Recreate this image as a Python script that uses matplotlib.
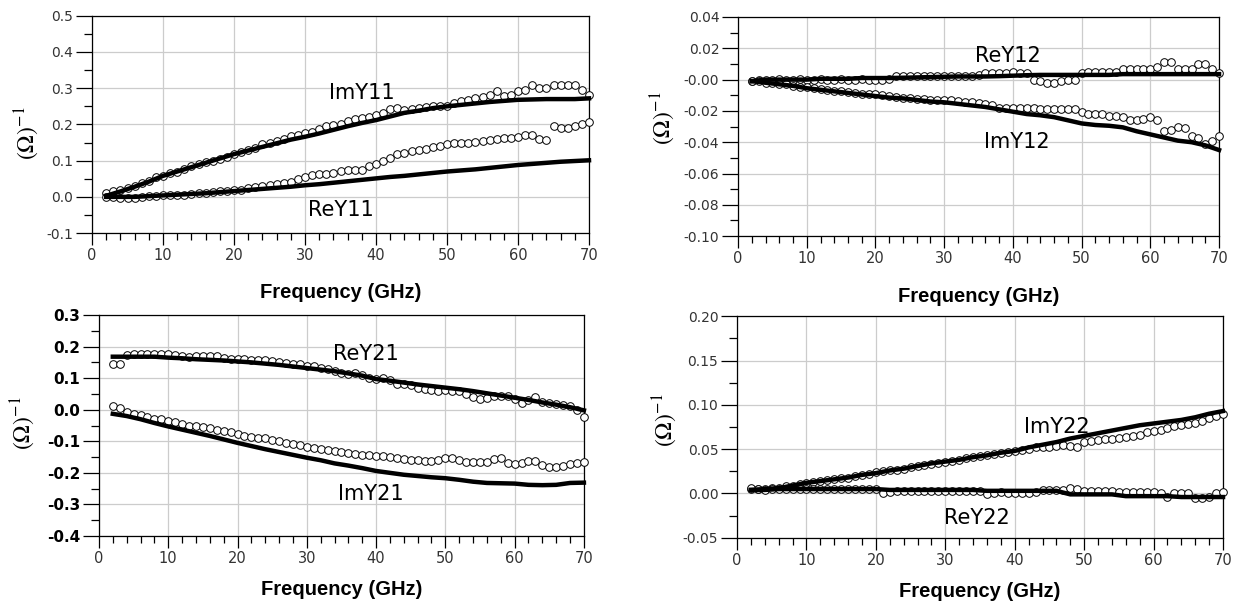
import matplotlib
matplotlib.use('Agg')
import matplotlib.pyplot as plt
from matplotlib.ticker import MultipleLocator, FormatStrFormatter

plt.rcParams['axes.unicode_minus'] = False
plt.rcParams['mathtext.fontset'] = 'stix'

# measured points (circles), every 1 GHz from 2 to 70
f_meas = list(range(2, 71))
# model curves (thick lines), every 2 GHz from 2 to 70
f_model = list(range(2, 71, 2))

im_y11_meas = [0.012, 0.015, 0.02, 0.025, 0.03, 0.038, 0.045, 0.055, 0.058, 0.065,
               0.07, 0.078, 0.085, 0.09, 0.095, 0.1, 0.105, 0.11, 0.118, 0.125,
               0.13, 0.135, 0.145, 0.148, 0.155, 0.16, 0.168, 0.172, 0.175, 0.18,
               0.188, 0.195, 0.198, 0.2, 0.21, 0.215, 0.218, 0.22, 0.225, 0.232,
               0.242, 0.245, 0.24, 0.242, 0.245, 0.248, 0.25, 0.25, 0.252, 0.258,
               0.265, 0.268, 0.272, 0.275, 0.28, 0.292, 0.278, 0.28, 0.293, 0.295,
               0.31, 0.3, 0.3, 0.308, 0.31, 0.31, 0.31, 0.294, 0.282]
re_y11_meas = [0.0, 0.0, -0.002, -0.002, -0.002, 0.0, 0.002, 0.003, 0.004, 0.004,
               0.005, 0.006, 0.008, 0.01, 0.012, 0.013, 0.016, 0.017, 0.018, 0.02,
               0.024, 0.027, 0.03, 0.033, 0.035, 0.038, 0.042, 0.048, 0.055, 0.06,
               0.062, 0.064, 0.066, 0.072, 0.075, 0.073, 0.074, 0.085, 0.09, 0.1,
               0.107, 0.118, 0.122, 0.128, 0.13, 0.133, 0.138, 0.14, 0.146, 0.148,
               0.148, 0.15, 0.152, 0.155, 0.158, 0.16, 0.163, 0.162, 0.166, 0.172,
               0.17, 0.16, 0.158, 0.196, 0.19, 0.19, 0.195, 0.2, 0.207]
im_y11_model = [0.003, 0.015, 0.028, 0.042, 0.058, 0.07, 0.082, 0.094, 0.106, 0.118,
                0.128, 0.138, 0.148, 0.158, 0.166, 0.175, 0.185, 0.195, 0.204, 0.212,
                0.222, 0.232, 0.238, 0.245, 0.25, 0.254, 0.258, 0.262, 0.265, 0.268,
                0.269, 0.27, 0.27, 0.27, 0.272]
re_y11_model = [0.0, 0.0, 0.0, 0.002, 0.004, 0.006, 0.008, 0.01, 0.013, 0.016,
                0.019, 0.022, 0.025, 0.028, 0.032, 0.035, 0.039, 0.043, 0.047, 0.051,
                0.055, 0.058, 0.062, 0.066, 0.07, 0.073, 0.076, 0.08, 0.084, 0.088,
                0.091, 0.094, 0.097, 0.099, 0.101]

re_y12_meas = [-0.001, 0.0, 0.0, 0.0, 0.0005, 0.0, 0.0, 0.0005, 0.0, 0.0,
               0.0005, 0.0, 0.0, 0.0005, 0.0, 0.0, 0.0005, 0.0, 0.0, 0.0,
               0.0005, 0.002, 0.002, 0.002, 0.002, 0.002, 0.002, 0.002, 0.002, 0.002,
               0.002, 0.002, 0.002, 0.003, 0.004, 0.004, 0.004, 0.004, 0.005, 0.004,
               0.004, 0.0, -0.001, -0.002, -0.002, -0.001, 0.0, 0.0, 0.004, 0.005,
               0.005, 0.005, 0.005, 0.005, 0.007, 0.007, 0.007, 0.007, 0.007, 0.008,
               0.011, 0.011, 0.007, 0.007, 0.007, 0.01, 0.01, 0.007, 0.004]
im_y12_meas = [-0.001, -0.001, -0.002, -0.002, -0.003, -0.003, -0.004, -0.0045, -0.005, -0.0055,
               -0.006, -0.0065, -0.007, -0.0075, -0.008, -0.0085, -0.009, -0.0092, -0.0095, -0.01,
               -0.0105, -0.011, -0.0115, -0.012, -0.0123, -0.0125, -0.013, -0.013, -0.013, -0.013,
               -0.0135, -0.014, -0.0145, -0.015, -0.0155, -0.016, -0.018, -0.018, -0.018, -0.018,
               -0.018, -0.018, -0.019, -0.019, -0.019, -0.019, -0.019, -0.0185, -0.021, -0.022,
               -0.022, -0.022, -0.023, -0.023, -0.024, -0.026, -0.026, -0.025, -0.024, -0.026,
               -0.033, -0.032, -0.03, -0.031, -0.036, -0.037, -0.041, -0.039, -0.036]
re_y12_model = [-0.001, 0.0, 0.0, 0.0, 0.0, 0.0005, 0.0005, 0.0005, 0.001, 0.001,
                0.001, 0.0012, 0.0014, 0.0016, 0.0018, 0.002, 0.002, 0.002, 0.0022, 0.0025,
                0.0028, 0.003, 0.003, 0.003, 0.003, 0.003, 0.003, 0.0035, 0.0035, 0.0035,
                0.0035, 0.0035, 0.0035, 0.0035, 0.0035]
im_y12_model = [-0.001, -0.002, -0.003, -0.004, -0.0055, -0.0065, -0.0075, -0.0085, -0.0095, -0.0105,
                -0.0115, -0.012, -0.013, -0.014, -0.0145, -0.0155, -0.0165, -0.0175, -0.019, -0.0205,
                -0.022, -0.0228, -0.024, -0.026, -0.028, -0.029, -0.0295, -0.0305, -0.033, -0.035,
                -0.037, -0.039, -0.04, -0.042, -0.045]

re_y21_meas = [0.145, 0.145, 0.172, 0.175, 0.178, 0.176, 0.175, 0.175, 0.176, 0.172,
               0.17, 0.168, 0.17, 0.17, 0.17, 0.17, 0.163, 0.162, 0.16, 0.16,
               0.158, 0.158, 0.157, 0.155, 0.15, 0.148, 0.146, 0.145, 0.14, 0.137,
               0.133, 0.13, 0.122, 0.116, 0.113, 0.115, 0.11, 0.1, 0.098, 0.1,
               0.095, 0.08, 0.08, 0.078, 0.068, 0.065, 0.062, 0.06, 0.062, 0.06,
               0.058, 0.05, 0.04, 0.035, 0.036, 0.045, 0.045, 0.042, 0.035, 0.022,
               0.03, 0.04, 0.025, 0.02, 0.018, 0.015, 0.012, -0.002, -0.022]
im_y21_meas = [0.013, 0.005, -0.008, -0.012, -0.018, -0.022, -0.028, -0.03, -0.035, -0.038,
               -0.045, -0.05, -0.052, -0.055, -0.058, -0.063, -0.068, -0.072, -0.078, -0.082,
               -0.085, -0.088, -0.09, -0.095, -0.1, -0.104, -0.108, -0.112, -0.117, -0.12,
               -0.125, -0.128, -0.132, -0.135, -0.138, -0.14, -0.142, -0.144, -0.146, -0.148,
               -0.15, -0.152, -0.156, -0.16, -0.16, -0.162, -0.162, -0.16, -0.153, -0.152,
               -0.158, -0.165, -0.167, -0.167, -0.165, -0.155, -0.152, -0.168, -0.172, -0.17,
               -0.162, -0.162, -0.175, -0.183, -0.183, -0.178, -0.172, -0.17, -0.165]
re_y21_model = [0.168, 0.168, 0.168, 0.168, 0.165, 0.163, 0.16, 0.158, 0.156, 0.153,
                0.15, 0.146, 0.142, 0.137, 0.132, 0.127, 0.122, 0.115, 0.108, 0.097,
                0.092, 0.086, 0.08, 0.075, 0.07, 0.065, 0.059, 0.052, 0.045, 0.038,
                0.031, 0.023, 0.016, 0.008, -0.002]
im_y21_model = [-0.013, -0.02, -0.03, -0.042, -0.053, -0.063, -0.073, -0.083, -0.094, -0.105,
                -0.115, -0.125, -0.134, -0.143, -0.152, -0.16, -0.17, -0.177, -0.185, -0.194,
                -0.2, -0.206, -0.21, -0.214, -0.217, -0.222, -0.228, -0.232, -0.233, -0.234,
                -0.238, -0.239, -0.238, -0.232, -0.231]

im_y22_meas = [0.005, 0.005, 0.005, 0.006, 0.006, 0.008, 0.009, 0.011, 0.012, 0.013,
               0.014, 0.015, 0.016, 0.017, 0.018, 0.02, 0.021, 0.022, 0.024, 0.025,
               0.026, 0.027, 0.028, 0.03, 0.031, 0.032, 0.033, 0.034, 0.035, 0.037,
               0.038, 0.04, 0.041, 0.042, 0.043, 0.044, 0.046, 0.047, 0.048, 0.049,
               0.05, 0.052, 0.053, 0.053, 0.054, 0.055, 0.054, 0.053, 0.058, 0.059,
               0.06, 0.061, 0.062, 0.063, 0.064, 0.065, 0.066, 0.069, 0.071, 0.072,
               0.074, 0.076, 0.077, 0.078, 0.08, 0.082, 0.085, 0.088, 0.09]
re_y22_meas = [0.006, 0.005, 0.004, 0.005, 0.005, 0.005, 0.005, 0.005, 0.005, 0.005,
               0.005, 0.005, 0.005, 0.005, 0.005, 0.005, 0.005, 0.005, 0.005, 0.0,
               0.002, 0.003, 0.003, 0.003, 0.003, 0.003, 0.003, 0.003, 0.003, 0.003,
               0.003, 0.003, 0.003, 0.003, -0.001, 0.001, 0.002, 0.001, 0.0, 0.0,
               0.0, 0.002, 0.004, 0.004, 0.004, 0.004, 0.006, 0.005, 0.003, 0.003,
               0.003, 0.003, 0.003, 0.002, 0.002, 0.002, 0.002, 0.002, 0.002, 0.001,
               -0.0045, 0.001, 0.001, 0.0, -0.005, -0.0055, -0.004, 0.0, 0.002]
im_y22_model = [0.004, 0.005, 0.006, 0.009, 0.012, 0.014, 0.016, 0.018, 0.021, 0.023,
                0.026, 0.028, 0.031, 0.034, 0.036, 0.038, 0.041, 0.043, 0.046, 0.048,
                0.052, 0.055, 0.058, 0.062, 0.065, 0.068, 0.071, 0.074, 0.077, 0.079,
                0.081, 0.083, 0.086, 0.09, 0.093]
re_y22_model = [0.004, 0.004, 0.005, 0.005, 0.005, 0.005, 0.005, 0.005, 0.005, 0.005,
                0.004, 0.004, 0.004, 0.004, 0.004, 0.004, 0.004, 0.003, 0.003, 0.003,
                0.003, 0.003, 0.003, -0.001, -0.001, -0.001, -0.001, -0.003, -0.003, -0.003,
                -0.003, -0.004, -0.004, -0.004, -0.004]

tick_color = '#333333'


def setup_axes(ax, ylim, ymajor, yminor, yfmt, bold_ticks=False):
    ax.set_xlim(0, 70)
    ax.set_ylim(*ylim)
    ax.xaxis.set_major_locator(MultipleLocator(10))
    ax.xaxis.set_minor_locator(MultipleLocator(2))
    ax.yaxis.set_major_locator(MultipleLocator(ymajor))
    ax.yaxis.set_minor_locator(MultipleLocator(yminor))
    ax.yaxis.set_major_formatter(FormatStrFormatter(yfmt))
    ax.grid(True, which='major', color='#cccccc', linewidth=0.9)
    ax.set_axisbelow(True)
    ax.tick_params(axis='x', which='major', direction='out', length=8.5, width=0.9,
                   pad=2.5, labelsize=10.5, labelcolor=tick_color)
    ax.tick_params(axis='x', which='minor', direction='out', length=5, width=0.9)
    ax.tick_params(axis='y', which='major', direction='out', length=11.5, width=0.9,
                   pad=2, labelsize=10, labelcolor=tick_color)
    ax.tick_params(axis='y', which='minor', direction='out', length=6, width=0.9)
    if bold_ticks:
        for lab in ax.get_yticklabels():
            lab.set_fontweight('bold')
            lab.set_fontsize(11)
            lab.set_color('black')
    for sp in ax.spines.values():
        sp.set_linewidth(0.9)
    # no tick marks on the top / right edges
    ax.figure.canvas.draw()
    ax.yaxis.get_major_ticks()[-1].tick1line.set_visible(False)
    ax.xaxis.get_major_ticks()[-1].tick1line.set_visible(False)


def draw_pair(ax, meas, model):
    ax.plot(f_meas, meas, 'o', markersize=5.5, markerfacecolor='white',
            markeredgecolor='black', markeredgewidth=0.7, zorder=3, clip_on=False)
    ax.plot(f_model, model, '-', color='black', linewidth=3.2, zorder=4, clip_on=False)


fig = plt.figure(figsize=(12.4, 6.07), dpi=100)
ax1 = fig.add_axes([0.0742, 0.616, 0.4008, 0.358])
ax2 = fig.add_axes([0.5952, 0.611, 0.3879, 0.361])
ax3 = fig.add_axes([0.0798, 0.117, 0.3911, 0.364])
ax4 = fig.add_axes([0.5944, 0.114, 0.3919, 0.365])

draw_pair(ax1, im_y11_meas, im_y11_model)
draw_pair(ax1, re_y11_meas, re_y11_model)
draw_pair(ax2, re_y12_meas, re_y12_model)
draw_pair(ax2, im_y12_meas, im_y12_model)
draw_pair(ax3, re_y21_meas, re_y21_model)
draw_pair(ax3, im_y21_meas, im_y21_model)
draw_pair(ax4, im_y22_meas, im_y22_model)
draw_pair(ax4, re_y22_meas, re_y22_model)

setup_axes(ax1, (-0.1, 0.5), 0.1, 0.05, '%.1f')
setup_axes(ax2, (-0.10, 0.04), 0.02, 0.01, '%.2f')
setup_axes(ax3, (-0.4, 0.3), 0.1, 0.05, '%.1f', bold_ticks=True)
setup_axes(ax4, (-0.05, 0.20), 0.05, 0.025, '%.2f')

# curve names
lab_kw = dict(fontsize=15, ha='center', va='center', family='DejaVu Sans', zorder=5)
ax1.text(38.0, 0.287, 'ImY11', **lab_kw)
ax1.text(35.1, -0.036, 'ReY11', **lab_kw)
ax2.text(39.2, 0.015, 'ReY12', **lab_kw)
ax2.text(40.6, -0.040, 'ImY12', **lab_kw)
ax3.text(38.5, 0.176, 'ReY21', **lab_kw)
ax3.text(39.2, -0.267, 'ImY21', **lab_kw)
ax4.text(46.1, 0.075, 'ImY22', **lab_kw)
ax4.text(34.6, -0.0275, 'ReY22', **lab_kw)

# axis labels
label_pos = [(ax1, -0.131, 0.46, -0.272), (ax2, -0.156, 0.54, -0.274),
             (ax3, -0.157, 0.51, -0.244), (ax4, -0.150, 0.53, -0.243)]
for ax, yx, yy, xy in label_pos:
    ax.set_xlabel('Frequency (GHz)', fontsize=14.5, fontweight='bold',
                  family='Liberation Sans')
    ax.xaxis.set_label_coords(0.5, xy)
    ax.xaxis.label.set_va('center')
    ax.set_ylabel(r'$(\Omega)^{-1}$', fontsize=17)
    ax.yaxis.label.set_va('center')
    ax.yaxis.set_label_coords(yx, yy)

fig.savefig('out.png', dpi=100)
